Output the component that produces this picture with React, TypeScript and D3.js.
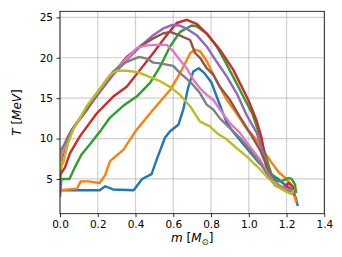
import React, { useEffect, useRef } from 'react';
import * as d3 from 'd3';

type Pt = [number, number];

// enclosed mass [Msun], temperature [MeV] for each profile
const blueProfile: Pt[] = [[0, 3.6], [0.1, 3.6], [0.21, 3.6], [0.24, 4.1], [0.28, 3.7], [0.39, 3.6], [0.435, 5.0], [0.485, 5.6], [0.512, 7.4], [0.556, 10.1], [0.583, 10.9], [0.627, 11.7], [0.653, 13.6], [0.68, 16.4], [0.706, 18.3], [0.735, 18.7], [0.765, 18.1], [0.803, 16.9], [0.83, 15.2], [0.857, 13.5], [0.883, 12.0], [0.909, 11.1], [0.95, 9.9], [1.0, 8.5], [1.05, 7.1], [1.1, 5.9], [1.15, 5.1], [1.18, 4.5], [1.21, 4.0], [1.235, 3.5], [1.25, 2.6], [1.258, 1.8]];
const orangeProfile: Pt[] = [[0, 3.6], [0.09, 3.8], [0.11, 4.7], [0.15, 4.7], [0.21, 4.5], [0.24, 5.5], [0.265, 7.2], [0.335, 8.6], [0.406, 11.1], [0.494, 13.6], [0.583, 16.0], [0.636, 18.1], [0.671, 19.7], [0.69, 20.6], [0.715, 21.0], [0.742, 20.8], [0.777, 19.6], [0.83, 17.1], [0.883, 14.8], [0.936, 13.1], [0.989, 11.2], [1.04, 9.9], [1.08, 8.4], [1.121, 7.0], [1.16, 5.8], [1.2, 5.0], [1.225, 4.3], [1.24, 3.0], [1.25, 2.2]];
const greenProfile: Pt[] = [[0, 3.0], [0.008, 5.0], [0.05, 5.0], [0.08, 6.5], [0.113, 8.0], [0.166, 9.5], [0.219, 11.1], [0.265, 12.6], [0.335, 14.05], [0.406, 15.2], [0.477, 16.9], [0.53, 18.9], [0.583, 21.4], [0.636, 23.2], [0.697, 24.0], [0.724, 23.9], [0.777, 23.0], [0.83, 21.4], [0.88, 19.3], [0.936, 16.8], [0.98, 14.8], [1.02, 13.0], [1.06, 10.2], [1.09, 7.8], [1.12, 5.6], [1.148, 4.7], [1.165, 4.7], [1.19, 4.9], [1.21, 5.1], [1.227, 5.0], [1.245, 4.3], [1.25, 3.4]];
const redProfile: Pt[] = [[0, 5.5], [0.026, 6.4], [0.053, 8.2], [0.106, 10.3], [0.194, 13.1], [0.282, 15.2], [0.353, 16.4], [0.424, 18.5], [0.494, 20.6], [0.565, 22.8], [0.618, 24.3], [0.671, 24.7], [0.724, 24.2], [0.777, 23.0], [0.847, 21.0], [0.918, 18.5], [0.997, 14.8], [1.04, 12.3], [1.068, 10.1], [1.08, 8.5], [1.09, 6.8], [1.11, 5.2], [1.14, 4.2], [1.183, 3.7], [1.209, 4.5], [1.232, 4.1], [1.24, 3.1]];
const purpleProfile: Pt[] = [[0, 2.9], [0.003, 7.5], [0.01, 8.6], [0.035, 9.9], [0.062, 11.1], [0.141, 13.6], [0.212, 15.8], [0.282, 17.9], [0.353, 19.7], [0.424, 21.4], [0.494, 22.8], [0.545, 23.6], [0.591, 24.05], [0.63, 24.0], [0.671, 23.6], [0.724, 22.8], [0.777, 21.4], [0.83, 19.5], [0.883, 17.7], [0.936, 15.6], [0.989, 12.9], [1.042, 10.7], [1.077, 8.2], [1.103, 6.2], [1.13, 4.7], [1.174, 3.9], [1.209, 3.7], [1.225, 3.9], [1.235, 3.3]];
const brownProfile: Pt[] = [[0, 5.0], [0.01, 7.5], [0.04, 10.0], [0.07, 11.3], [0.141, 13.5], [0.212, 16.0], [0.282, 18.1], [0.353, 20.1], [0.424, 21.4], [0.494, 22.4], [0.545, 23.0], [0.583, 23.2], [0.63, 22.8], [0.689, 22.2], [0.715, 20.6], [0.742, 20.0], [0.777, 18.7], [0.812, 17.9], [0.847, 16.4], [0.9, 14.8], [0.953, 12.7], [1.006, 10.7], [1.059, 8.6], [1.095, 6.6], [1.121, 5.1], [1.165, 4.1], [1.21, 3.9], [1.235, 3.4]];
const pinkProfile: Pt[] = [[0, 6.0], [0.01, 8.0], [0.04, 9.8], [0.07, 11.2], [0.141, 13.8], [0.212, 16.1], [0.282, 18.2], [0.353, 19.9], [0.406, 21.2], [0.45, 21.5], [0.512, 21.6], [0.565, 21.6], [0.6, 20.8], [0.636, 19.7], [0.671, 18.7], [0.706, 17.3], [0.742, 16.2], [0.777, 15.4], [0.812, 14.8], [0.847, 13.6], [0.9, 11.9], [0.953, 10.7], [1.006, 9.0], [1.059, 7.4], [1.095, 5.9], [1.13, 4.7], [1.183, 3.9], [1.215, 3.6], [1.235, 3.3]];
const grayProfile: Pt[] = [[0, 7.0], [0.005, 8.6], [0.04, 9.8], [0.07, 11.2], [0.141, 13.8], [0.212, 16.1], [0.282, 18.3], [0.353, 19.5], [0.42, 20.1], [0.459, 19.9], [0.494, 19.4], [0.53, 19.3], [0.6, 19.0], [0.636, 18.1], [0.671, 17.4], [0.706, 16.6], [0.742, 15.6], [0.777, 14.2], [0.812, 13.6], [0.847, 12.5], [0.9, 11.3], [0.953, 10.1], [1.006, 8.6], [1.059, 7.0], [1.095, 5.7], [1.13, 4.5], [1.183, 3.7], [1.215, 3.5], [1.235, 3.2]];
const oliveProfile: Pt[] = [[0, 8.5], [0.004, 6.2], [0.02, 7.2], [0.042, 9.4], [0.07, 11.1], [0.141, 14.0], [0.212, 16.2], [0.265, 17.9], [0.3, 18.4], [0.353, 18.4], [0.415, 18.2], [0.477, 17.6], [0.53, 17.1], [0.583, 16.4], [0.636, 15.4], [0.689, 14.0], [0.742, 12.1], [0.794, 11.5], [0.83, 10.7], [0.883, 9.9], [0.936, 8.8], [0.989, 7.8], [1.042, 6.6], [1.095, 5.3], [1.148, 4.1], [1.2, 3.4], [1.225, 3.15], [1.235, 3.5]];

const profiles = [blueProfile, orangeProfile, greenProfile, redProfile, purpleProfile, brownProfile, pinkProfile, grayProfile, oliveProfile];
const colors = ['#1f77b4', '#ff7f0e', '#2ca02c', '#d62728', '#9467bd', '#8c564b', '#e377c2', '#7f7f7f', '#bcbd22'];

const xTicks = [0, 0.2, 0.4, 0.6, 0.8, 1.0, 1.2, 1.4];
const yTicks = [5, 10, 15, 20, 25];

const W = 342;
const H = 257;
const FONT = 'DejaVu Sans, sans-serif';

const App = () => {
  const ref = useRef<SVGSVGElement>(null);

  useEffect(() => {
    const svg = d3.select(ref.current);
    svg.selectAll('*').remove();

    const left = 60, right = 324.3, top = 11.3, bottom = 213.7;

    const x = d3.scaleLinear().domain([0, 1.4]).range([left, right]);
    const y = d3.scaleLinear().domain([0.7, 25.75]).range([bottom, top]);

    // grid
    const grid = svg.append('g');
    grid.selectAll('line.gx')
      .data(xTicks)
      .enter()
      .append('line')
      .attr('x1', d => x(d)).attr('x2', d => x(d))
      .attr('y1', top).attr('y2', bottom)
      .attr('stroke', '#b0b0b0').attr('stroke-opacity', 0.6).attr('stroke-width', 1.2);
    grid.selectAll('line.gy')
      .data(yTicks)
      .enter()
      .append('line')
      .attr('x1', left).attr('x2', right)
      .attr('y1', d => y(d)).attr('y2', d => y(d))
      .attr('stroke', '#b0b0b0').attr('stroke-opacity', 0.6).attr('stroke-width', 1.2);

    const clipId = 'plotclip';
    svg.append('clipPath').attr('id', clipId)
      .append('rect')
      .attr('x', left).attr('y', top)
      .attr('width', right - left).attr('height', bottom - top);

    const line = d3.line<Pt>()
      .x(d => x(d[0]))
      .y(d => y(d[1]));

    svg.append('g')
      .attr('clip-path', `url(#${clipId})`)
      .selectAll('path')
      .data(profiles)
      .enter()
      .append('path')
      .attr('fill', 'none')
      .attr('stroke', (_, i) => colors[i])
      .attr('stroke-width', 2.4)
      .attr('stroke-linejoin', 'round')
      .attr('stroke-linecap', 'square')
      .attr('d', d => line(d));

    // axes
    const xAxis = svg.append('g')
      .attr('transform', `translate(0,${bottom})`)
      .call(d3.axisBottom(x).tickValues(xTicks).tickFormat(d3.format('.1f')).tickSize(3.5).tickPadding(3.5));
    const yAxis = svg.append('g')
      .attr('transform', `translate(${left},0)`)
      .call(d3.axisLeft(y).tickValues(yTicks).tickFormat(d3.format('d')).tickSize(3.5).tickPadding(3.5));

    [xAxis, yAxis].forEach(ax => {
      ax.select('.domain').remove();
      ax.selectAll('line').attr('stroke', '#000').attr('stroke-width', 0.8);
      ax.selectAll('text').attr('font-family', FONT).attr('font-size', 10.5).attr('fill', '#000');
    });

    // frame
    svg.append('rect')
      .attr('x', left).attr('y', top)
      .attr('width', right - left).attr('height', bottom - top)
      .attr('fill', 'none').attr('stroke', '#000').attr('stroke-width', 0.8);

    // axis labels
    const xl = svg.append('text')
      .attr('x', (left + right) / 2)
      .attr('y', 242)
      .attr('text-anchor', 'middle')
      .attr('font-family', FONT)
      .attr('font-size', 12);
    xl.append('tspan').attr('font-style', 'italic').text('m');
    xl.append('tspan').text(' [');
    xl.append('tspan').attr('font-style', 'italic').text('M');
    xl.append('tspan').attr('font-size', 8.5).attr('dy', 2.5).text('⊙');
    xl.append('tspan').attr('dy', -2.5).text(']');

    const yl = svg.append('text')
      .attr('transform', `translate(20.5,${(top + bottom) / 2}) rotate(-90)`)
      .attr('text-anchor', 'middle')
      .attr('font-family', FONT)
      .attr('font-size', 12);
    yl.append('tspan').attr('font-style', 'italic').text('T');
    yl.append('tspan').text(' [');
    yl.append('tspan').attr('font-style', 'italic').text('MeV');
    yl.append('tspan').text(']');
  }, []);

  return (
    <svg
      ref={ref}
      width={W}
      height={H}
      style={{ position: 'absolute', left: 0, top: 0, background: '#fff' }}
    />
  );
};

export default App;
